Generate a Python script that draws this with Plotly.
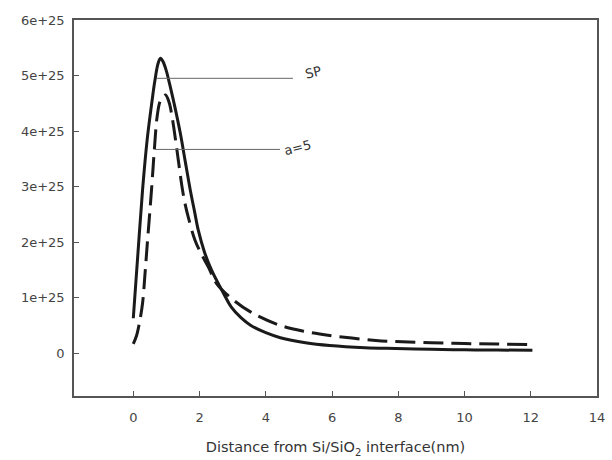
import plotly.graph_objects as go

# SP curve (solid)
sp_x = [0.0, 0.14, 0.28, 0.42, 0.57, 0.65, 0.75, 0.82, 0.9, 1.0, 1.1, 1.25, 1.42, 1.57, 1.72, 1.85, 1.96, 2.15, 2.36, 2.51, 2.75, 2.96, 3.25, 3.55, 4.0, 4.44, 5.2, 5.93, 7.0, 7.92, 9.0, 10.0, 11.0, 12.05]
sp_y = [0.63, 1.8, 2.94, 3.85, 4.56, 4.9, 5.22, 5.31, 5.25, 5.08, 4.84, 4.45, 3.96, 3.45, 2.94, 2.55, 2.22, 1.82, 1.5, 1.32, 1.05, 0.83, 0.64, 0.50, 0.37, 0.28, 0.19, 0.14, 0.10, 0.085, 0.07, 0.062, 0.057, 0.054]

# a=5 curve (dashed)
a5_x = [0.0, 0.1, 0.18, 0.28, 0.35, 0.42, 0.55, 0.64, 0.72, 0.82, 0.97, 1.08, 1.17, 1.32, 1.47, 1.56, 1.66, 1.86, 2.06, 2.26, 2.51, 2.96, 3.55, 4.44, 5.2, 5.93, 7.32, 7.92, 9.0, 10.0, 11.0, 11.98]
a5_y = [0.17, 0.32, 0.53, 0.9, 1.4, 1.95, 2.94, 3.7, 4.26, 4.55, 4.65, 4.52, 4.26, 3.65, 3.0, 2.7, 2.45, 2.04, 1.78, 1.56, 1.26, 0.99, 0.74, 0.50, 0.39, 0.32, 0.23, 0.21, 0.19, 0.175, 0.165, 0.155]

x_ticks = [0, 2, 4, 6, 8, 10, 12, 14]
y_ticks = [0, 1, 2, 3, 4, 5, 6]
y_tick_text = ["0", "1e+25", "2e+25", "3e+25", "4e+25", "5e+25", "6e+25"]

labels = [
    {"text": "SP", "line_x": [0.71, 4.82], "line_y": 4.95, "tx": 5.42, "ty": 5.06},
    {"text": "a=5", "line_x": [0.65, 4.43], "line_y": 3.67, "tx": 4.97, "ty": 3.71},
]

FONT = "DejaVu Sans, Liberation Sans, Arial"
E = 1e25
fig = go.Figure()
fig.add_trace(go.Scatter(x=sp_x, y=[v * E for v in sp_y], mode="lines",
                         line=dict(color="#1a1a1a", width=3, shape="spline", smoothing=1.0),
                         showlegend=False))
fig.add_trace(go.Scatter(x=a5_x, y=[v * E for v in a5_y], mode="lines",
                         line=dict(color="#1a1a1a", width=3, dash="20px,8px", shape="spline", smoothing=1.0),
                         showlegend=False))

for lab in labels:
    fig.add_trace(go.Scatter(x=lab["line_x"], y=[lab["line_y"] * E] * 2, mode="lines",
                             line=dict(color="#666666", width=1), showlegend=False))
    fig.add_annotation(x=lab["tx"], y=lab["ty"] * E, text=lab["text"], showarrow=False,
                       textangle=-14, font=dict(family=FONT, size=13, color="#333333"))

axis_common = dict(showline=True, linecolor="#555555", linewidth=1.5, mirror=True,
                   ticks="inside", ticklen=5, tickcolor="#555555", tickwidth=1,
                   showgrid=False, zeroline=False,
                   tickfont=dict(family=FONT, size=13, color="#444444"))

fig.update_xaxes(range=[-1.79, 14], tickvals=x_ticks, ticktext=[str(t) for t in x_ticks],
                 ticklabelstandoff=9,
                 title=dict(text="Distance from Si/SiO<sub>2</sub> interface(nm)",
                            font=dict(family=FONT, size=14.5, color="#333333"),
                            standoff=18),
                 **axis_common)
fig.update_yaxes(range=[-0.77 * E, 6 * E], tickvals=[v * E for v in y_ticks], ticktext=y_tick_text,
                 ticklabelstandoff=5,
                 **axis_common)

fig.update_layout(width=612, height=460, margin=dict(l=74, r=7, t=20, b=64),
                  plot_bgcolor="white", paper_bgcolor="white")

fig.write_html("out.html")
